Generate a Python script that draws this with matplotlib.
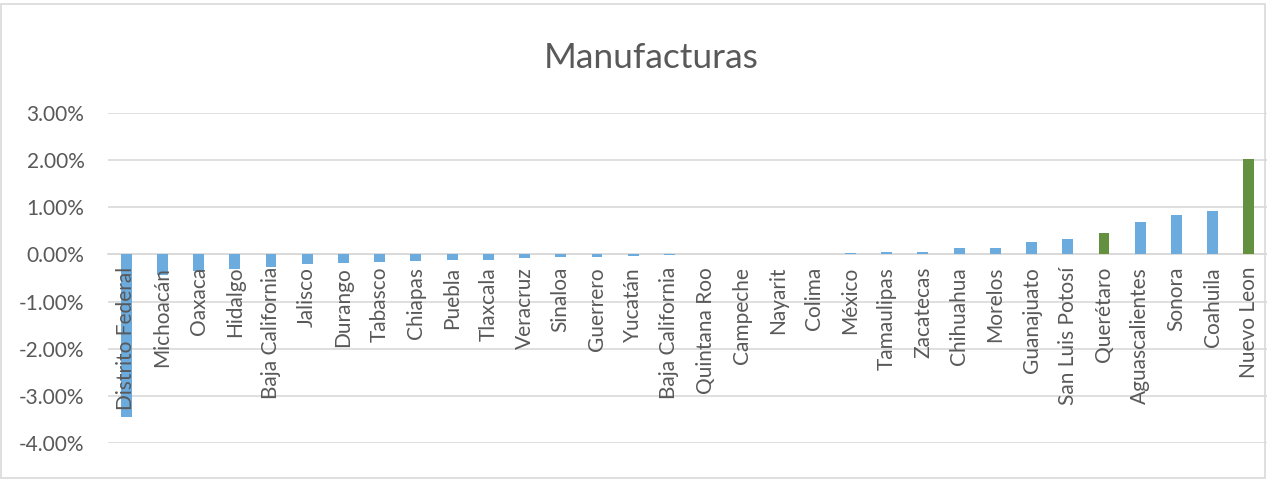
import matplotlib.pyplot as plt
from matplotlib.patches import Rectangle
from matplotlib.ticker import FuncFormatter

estados = ['Distrito Federal', 'Michoacán', 'Oaxaca', 'Hidalgo', 'Baja California',
           'Jalisco', 'Durango', 'Tabasco', 'Chiapas', 'Puebla', 'Tlaxcala',
           'Veracruz', 'Sinaloa', 'Guerrero', 'Yucatán', 'Baja California',
           'Quintana Roo', 'Campeche', 'Nayarit', 'Colima', 'México', 'Tamaulipas',
           'Zacatecas', 'Chihuahua', 'Morelos', 'Guanajuato', 'San Luis Potosí',
           'Querétaro', 'Aguascalientes', 'Sonora', 'Coahuila', 'Nuevo Leon']
valores = [-3.45, -0.43, -0.355, -0.30, -0.27, -0.21, -0.18, -0.16, -0.14, -0.12,
           -0.11, -0.08, -0.05, -0.05, -0.03, -0.002, -0.001, -0.001, 0.0, 0.001,
           0.03, 0.045, 0.045, 0.14, 0.14, 0.26, 0.33, 0.45, 0.69, 0.84, 0.915, 2.02]
destacados = ['Querétaro', 'Nuevo Leon']

azul = '#6CABDD'
verde = '#64913F'
gris_texto = '#595959'
gris_linea = '#D9D9D9'

plt.rcParams['font.family'] = ['Lato', 'DejaVu Sans']

fig = plt.figure(figsize=(12.67, 4.82), dpi=100)
ax = fig.add_axes([108 / 1267, 1 - 443 / 482, 1 - 108 / 1267, 330 / 482])

colores = [verde if e in destacados else azul for e in estados]
x = list(range(len(estados)))
ax.bar(x, valores, width=0.3, color=colores, zorder=1)

# eje horizontal en cero (antes de poner las etiquetas, porque las reinicia)
ax.spines['bottom'].set_position(('data', 0))
ax.spines['bottom'].set_color(gris_linea)
ax.spines['bottom'].set_linewidth(1.2)
ax.spines['bottom'].set_zorder(0.5)
for s in ['top', 'right', 'left']:
    ax.spines[s].set_visible(False)

ax.set_xlim(-0.5, len(estados) - 0.5)
ax.set_ylim(-4, 3)
ax.set_yticks(range(-4, 4))
ax.yaxis.set_major_formatter(FuncFormatter(lambda v, p: f'{v:.2f}%'))
# lineas de cuadricula por debajo de las barras, etiquetas por encima
for v in range(-4, 4):
    ax.axhline(v, color=gris_linea, linewidth=1.2, zorder=0)

ax.set_xticks(x)
ax.set_xticklabels(estados, rotation=90, fontsize=15, color=gris_texto)
ax.xaxis.set_zorder(3)
ax.tick_params(axis='x', length=0, pad=9)
ax.tick_params(axis='y', length=0, pad=17, labelsize=15, labelcolor=gris_texto)

fig.text(651 / 1267, 1 - 58 / 482, 'Manufacturas', ha='center', va='center',
         fontsize=25.5, color=gris_texto)

fig.patches.append(Rectangle((1 / 1267, 1 - 478 / 482), 1264 / 1267, 474 / 482,
                             transform=fig.transFigure, fill=False,
                             edgecolor=gris_linea, linewidth=1.2))

fig.savefig('out.png', dpi=100)
